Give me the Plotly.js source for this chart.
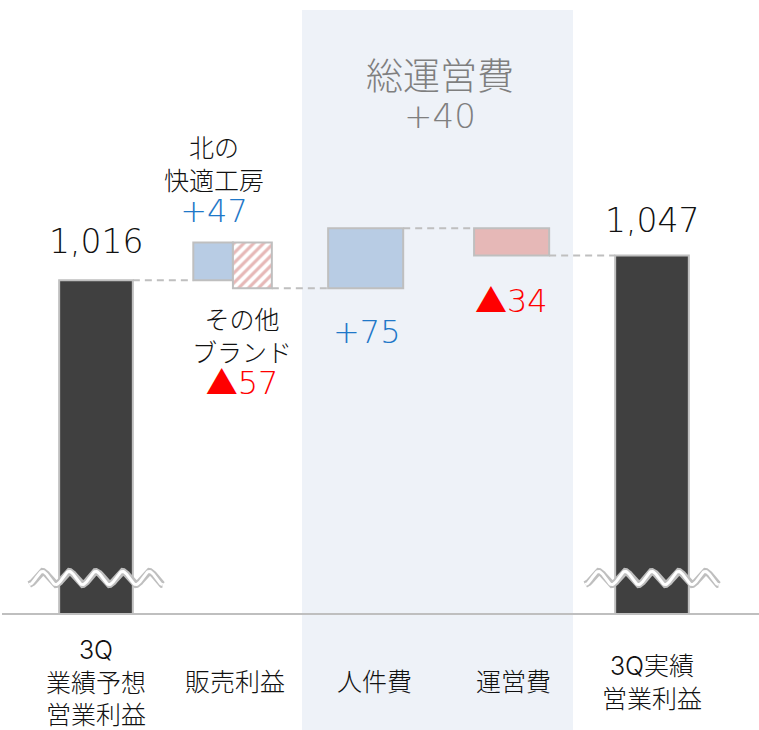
<!DOCTYPE html>
<html><head><meta charset="utf-8">
<script src="https://cdn.plot.ly/plotly-3.0.1.min.js"></script>
<style>body{margin:0;background:#fff}</style>
</head><body><div id="chart" style="width:759px;height:730px"></div>
<script>
// ---- data ----
const categories = ["3Q<br>業績予想<br>営業利益", "販売利益", "人件費", "運営費", "3Q実績<br>営業利益"];
const forecastProfit = 1016;
const actualProfit = 1047;
const salesItems = ["北の<br>快適工房", "その他<br>ブランド"];
const salesDeltas = [47, -57];
const costItems = ["人件費", "運営費"];
const costDeltas = [75, -34];
const totalCostTitle = "総運営費";
const totalCostDelta = 40;
const axisStart = 600;

// ---- derived ----
const c0 = forecastProfit;
const c1 = c0 + salesDeltas[0];
const c2 = c1 + salesDeltas[1];
const c3 = c2 + costDeltas[0];
const c4 = c3 + costDeltas[1];
const fmtDelta = v => (v >= 0 ? "+" + v : "▲" + (-v));
const fmtTotal = v => v.toLocaleString("en-US");

const W = 759, H = 730, ML = 2, MR = 0, MT = 0, MB = 117;
const pxPerCat = 139, pxPerUnit = 0.8;
const xMin = -94 / pxPerCat;
const xMax = xMin + (W - ML - MR) / pxPerCat;
const yMax = axisStart + (H - MT - MB) / pxPerUnit;

const GRAY = "#bfbfbf", DARK = "#404040", BLUE = "#b8cce4", PINK = "#e6b8b7";
const BLUE_TXT = "#1f78c8", RED_TXT = "#ff0000", TXT = "#111111";
const FONT = "Inter, 'Noto Sans CJK JP', sans-serif";
const NUM = "'DejaVu Sans', 'Noto Sans CJK JP', sans-serif";
const f = (size, color) => ({family: FONT, size: size, color: color || TXT, weight: 300});
const fn = (size, color) => ({family: NUM, size: size, color: color || TXT, weight: 200});
const span = (t, size, color, fam) => `<span style="font-size:${size}px;fill:${color};font-family:${fam || FONT};font-weight:200">${t}</span>`;

const traces = [];
// totals
traces.push({type: "bar", x: [0, 4], y: [forecastProfit, actualProfit], width: 0.53,
  marker: {color: DARK, line: {color: GRAY, width: 2}}, hoverinfo: "skip"});
// sales: positive part
traces.push({type: "bar", x: [1], base: [c0], y: [salesDeltas[0]], width: 0.285, offset: -0.3,
  marker: {color: BLUE, line: {color: GRAY, width: 2}}, hoverinfo: "skip"});
// sales: negative part (hatched)
traces.push({type: "bar", x: [1], base: [c1], y: [salesDeltas[1]], width: 0.28, offset: -0.015,
  marker: {color: "#ffffff", line: {color: GRAY, width: 2},
    pattern: {shape: "/", fgcolor: PINK, bgcolor: "#ffffff", size: 7, solidity: 0.45}}, hoverinfo: "skip"});
// costs
traces.push({type: "bar", x: [2], base: [c2], y: [costDeltas[0]], width: 0.54, offset: -0.33,
  marker: {color: BLUE, line: {color: GRAY, width: 2}}, hoverinfo: "skip"});
traces.push({type: "bar", x: [3], base: [c3], y: [costDeltas[1]], width: 0.54, offset: -0.28,
  marker: {color: PINK, line: {color: GRAY, width: 2}}, hoverinfo: "skip"});
// connectors
traces.push({type: "scatter", mode: "lines",
  x: [0.265, 0.7, null, 1.265, 1.67, null, 2.21, 2.72, null, 3.26, 3.735],
  y: [c0, c0, null, c2, c2, null, c3, c3, null, c4, c4],
  line: {color: GRAY, width: 2, dash: "7px,5px"}, hoverinfo: "skip"});
// axis-break waves
function wave(cx) {
  const xs = [], ys = [];
  const N = 200, yc = axisStart + 35 / pxPerUnit, A = 6.5 / pxPerUnit;
  for (let i = 0; i <= N; i++) {
    const t = i / N;
    xs.push(cx - 0.48 + 0.96 * t);
    ys.push(yc - A * Math.cos(2 * Math.PI * 5 * t));
  }
  return {xs, ys};
}
[0, 4].forEach(cx => {
  const w = wave(cx);
  traces.push({type: "scatter", mode: "lines", x: w.xs, y: w.ys, line: {color: GRAY, width: 7}, hoverinfo: "skip"});
  traces.push({type: "scatter", mode: "lines", x: w.xs, y: w.ys, line: {color: "#ffffff", width: 3}, hoverinfo: "skip"});
});

const ann = [];
// category labels
categories.forEach((c, i) => ann.push({x: i, y: 0, xref: "x", yref: "paper", yanchor: "middle", yshift: -69,
  text: c, showarrow: false, font: f(25)}));
// totals
ann.push({x: 0, y: forecastProfit, yshift: 39, text: fmtTotal(forecastProfit), showarrow: false, yanchor: "middle", font: fn(33)});
ann.push({x: 4, y: actualProfit, yshift: 35, text: fmtTotal(actualProfit), showarrow: false, yanchor: "middle", font: fn(33)});
// sales
ann.push({x: 0.85, y: c1, yshift: 61, yanchor: "middle", showarrow: false, font: f(25),
  text: salesItems[0] + "<br>" + span(fmtDelta(salesDeltas[0]), 32, BLUE_TXT, NUM)});
ann.push({x: 1.05, y: c2, yshift: -65, yanchor: "middle", showarrow: false, font: f(25),
  text: salesItems[1] + "<br>" + span(fmtDelta(salesDeltas[1]), 32, RED_TXT, NUM)});
// costs
ann.push({x: 1.95, y: c2, yshift: -44, text: fmtDelta(costDeltas[0]), showarrow: false, yanchor: "middle", font: fn(32, BLUE_TXT)});
ann.push({x: 2.99, y: c4, yshift: -46, text: fmtDelta(costDeltas[1]), showarrow: false, yanchor: "middle", font: fn(32, RED_TXT)});
// total cost group
ann.push({x: 2.475, y: 1, xref: "x", yref: "paper", yshift: -95, yanchor: "middle", showarrow: false,
  text: span(totalCostTitle, 37, "#7f7f7f") + "<br>" + span(fmtDelta(totalCostDelta), 34, "#7f7f7f", NUM), font: f(29, "#7f7f7f")});

const layout = {
  width: W, height: H,
  margin: {l: ML, r: MR, t: MT, b: MB, pad: 0},
  paper_bgcolor: "#ffffff", plot_bgcolor: "rgba(0,0,0,0)",
  showlegend: false, barmode: "overlay",
  xaxis: {range: [xMin, xMax], showgrid: false, zeroline: false, showticklabels: false, ticks: "",
    showline: true, linecolor: GRAY, linewidth: 2, fixedrange: true},
  yaxis: {range: [axisStart, yMax], showgrid: false, zeroline: false, showticklabels: false, ticks: "",
    showline: false, fixedrange: true},
  shapes: [{type: "rect", xref: "paper", yref: "paper",
    x0: (302 - ML) / (W - ML - MR), x1: (573 - ML) / (W - ML - MR),
    y0: -MB / (H - MT - MB), y1: (H - MB - 10) / (H - MT - MB),
    fillcolor: "#eef2f8", line: {width: 0}, layer: "below"}],
  annotations: ann,
  font: {family: FONT}
};
Plotly.newPlot("chart", traces, layout, {displayModeBar: false, staticPlot: true});
</script></body></html>
